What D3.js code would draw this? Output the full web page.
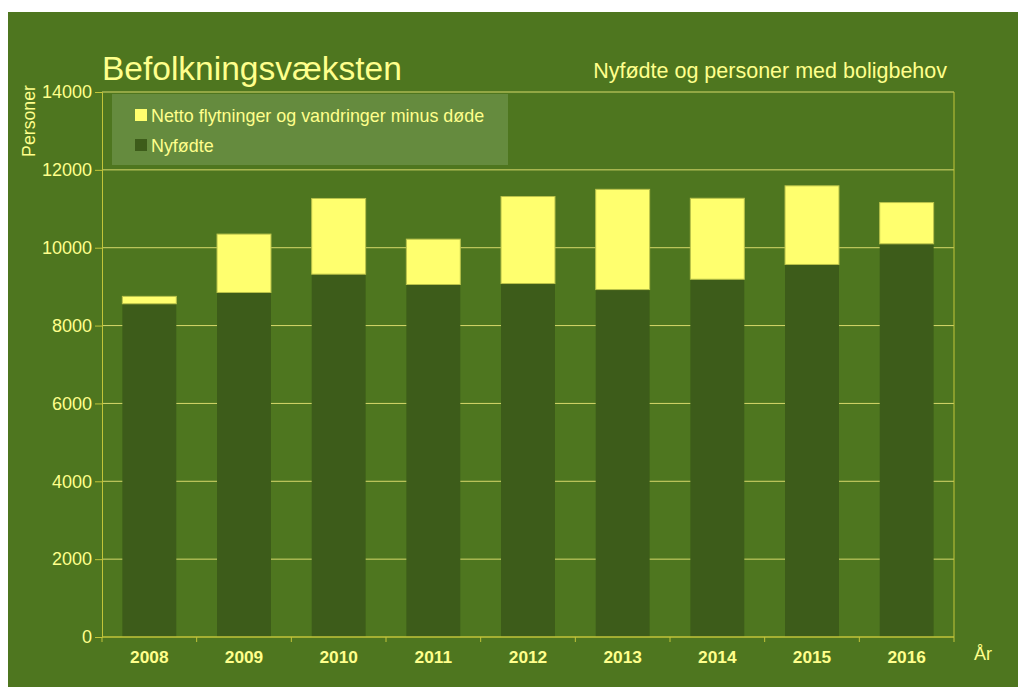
<!doctype html>
<html>
<head>
<meta charset="utf-8"/>
<script src="https://cdnjs.cloudflare.com/ajax/libs/d3/7.8.5/d3.min.js"></script>
<style>
  body { margin: 0; background: #fff; }
  svg { display: block; font-family: "Liberation Sans", Arial, sans-serif; }
</style>
</head>
<body>
<svg width="1018" height="687"></svg>
<script>
// data
var years = ["2008","2009","2010","2011","2012","2013","2014","2015","2016"]
var nyfodte = [8560, 8850, 9320, 9055, 9080, 8925, 9190, 9570, 10100]
var netto = [190, 1500, 1945, 1165, 2235, 2575, 2080, 2020, 1060]
var yTicks = [0, 2000, 4000, 6000, 8000, 10000, 12000, 14000]
var legendItems = ["Netto flytninger og vandringer minus døde", "Nyfødte"]

var txt = "#ffff8c"
var axisCol = "#c2c43a"

var svg = d3.select("svg")
svg.append("rect").attr("x", 8).attr("y", 12).attr("width", 1010).attr("height", 675).attr("fill", "#4e761f")

var pLeft = 102, pRight = 954, pTop = 92, pBottom = 637

var x = d3.scaleBand().domain(years).range([pLeft, pRight]).paddingInner(0.43).paddingOuter(0.215)
var y = d3.scaleLinear().domain([0, 14000]).range([pBottom, pTop])

// grid
svg.append("g").selectAll("line").data(yTicks.filter(d => d > 0)).enter().append("line")
  .attr("x1", pLeft).attr("x2", pRight)
  .attr("y1", d => y(d)).attr("y2", d => y(d))
  .attr("stroke", "#d6d86a").attr("stroke-width", 1)

// stacked bars
var rows = years.map((d, i) => ({year: d, a: nyfodte[i], b: netto[i]}))
var stack = d3.stack().keys(["a", "b"])(rows)
var colors = {a: "#3d5c1a", b: "#ffff6e"}

svg.append("g").selectAll("g").data(stack).enter().append("g")
  .attr("fill", d => colors[d.key])
  .attr("stroke", d => d.key == "b" ? "#b9c24a" : "none")
  .selectAll("rect").data(d => d).enter().append("rect")
  .attr("x", d => x(d.data.year))
  .attr("width", x.bandwidth())
  .attr("y", d => y(d[1]))
  .attr("height", d => y(d[0]) - y(d[1]))

// legend
svg.append("rect").attr("x", 112).attr("y", 94).attr("width", 396).attr("height", 71).attr("fill", "#658b3e")
var lg = svg.append("g").selectAll("g").data(legendItems).enter().append("g")
  .attr("transform", (d, i) => "translate(135," + (109 + i * 30) + ")")
lg.append("rect").attr("width", 12).attr("height", 12)
  .attr("fill", (d, i) => i == 0 ? colors.b : colors.a)
lg.append("text").attr("x", 16).attr("y", 13).attr("fill", txt).attr("font-size", 17.9).text(d => d)

// y axis
var yAxis = svg.append("g").attr("transform", "translate(" + pLeft + ",0)")
  .call(d3.axisLeft(y).tickValues(yTicks).tickFormat(d3.format("d")).tickSize(7).tickPadding(3))
yAxis.select(".domain").attr("stroke", axisCol)
yAxis.selectAll(".tick line").attr("stroke", axisCol)
yAxis.selectAll("text").attr("fill", txt).attr("font-size", 18).attr("font-family", "Liberation Sans, Arial")

// right frame
svg.append("line").attr("x1", pRight).attr("x2", pRight).attr("y1", pTop).attr("y2", pBottom + 5).attr("stroke", axisCol)

// x axis
svg.append("line").attr("x1", pLeft).attr("x2", pRight).attr("y1", pBottom).attr("y2", pBottom).attr("stroke", axisCol).attr("stroke-width", 1.5)
var bounds = years.slice(1).map(d => x(d) - x.step() * x.paddingInner() / 2)
svg.append("g").selectAll("line").data(bounds.concat([pLeft])).enter().append("line")
  .attr("x1", d => d).attr("x2", d => d).attr("y1", pBottom).attr("y2", pBottom + 5)
  .attr("stroke", axisCol)
svg.append("g").selectAll("text").data(years).enter().append("text")
  .attr("x", d => x(d) + x.bandwidth() / 2).attr("y", 663)
  .attr("text-anchor", "middle").attr("font-weight", "bold").attr("font-size", 17.3)
  .attr("fill", txt).text(d => d)

// titles
svg.append("text").attr("x", 102).attr("y", 80).attr("font-size", 33.5).attr("fill", txt).text("Befolkningsvæksten")
svg.append("text").attr("x", 947).attr("y", 78).attr("text-anchor", "end").attr("font-size", 21.5).attr("fill", txt).text("Nyfødte og personer med boligbehov")
svg.append("text").attr("transform", "translate(35,121) rotate(-90)").attr("text-anchor", "middle")
  .attr("font-size", 17.7).attr("fill", txt).text("Personer")
svg.append("text").attr("x", 974).attr("y", 660).attr("font-size", 18).attr("fill", txt).text("År")
</script>
</body>
</html>
